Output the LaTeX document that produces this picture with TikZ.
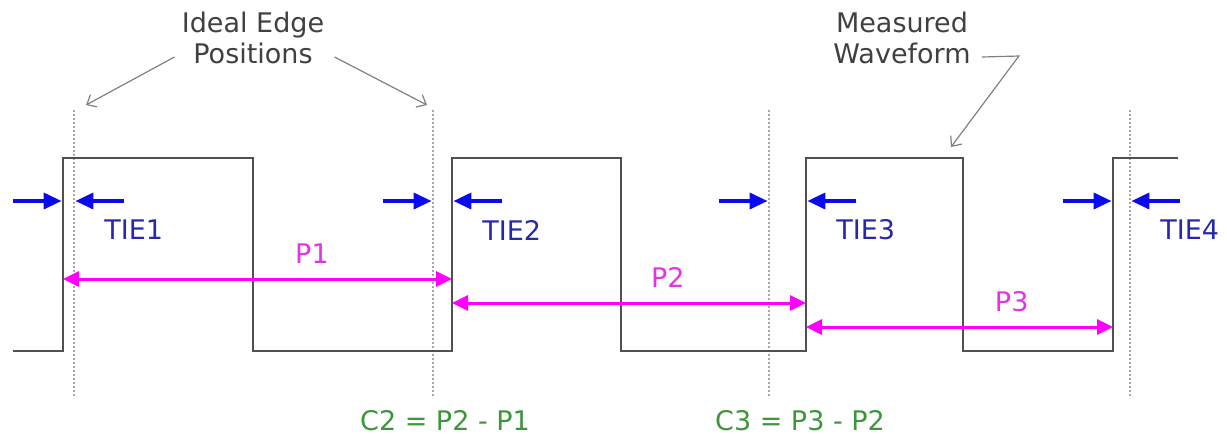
\documentclass[tikz,border=0pt]{standalone}
\usepackage{fontspec}
\setmainfont{DejaVu Sans}
\usepackage{xcolor}
\usepackage{tikz}
\usetikzlibrary{arrows.meta, positioning, calc}
\definecolor{waveGray}{RGB}{80,80,80}
\definecolor{tieBlue}{RGB}{10,10,240}
\definecolor{tieText}{RGB}{40,40,175}
\definecolor{perMagenta}{RGB}{255,0,255}
\definecolor{perText}{RGB}{230,50,230}
\definecolor{cycGreen}{RGB}{60,150,60}
\newcommand{\lblfont}{\fontsize{13.5}{15.5}\selectfont}

\begin{document}
\begin{tikzpicture}[
  x=0.5pt, y=-0.5pt,
  wave/.style={draw=waveGray, line width=1.4pt},
  ideal/.style={draw=black!35, dash pattern=on 0.8pt off 1.2pt, line width=0.8pt},
  tie/.style={-{Triangle[length=9pt, width=8pt]}, tieBlue, line width=1.8pt},
  period/.style={{Triangle[length=8pt, width=7.5pt]}-{Triangle[length=8pt, width=7.5pt]}, perMagenta, line width=1.5pt},
  pointer/.style={-{Straight Barb[length=4pt, width=7pt]}, black!50, line width=0.6pt},
  note/.style={align=center, font=\lblfont, text=black!75, inner sep=1pt},
  tielabel/.style={font=\lblfont, text=tieText, inner sep=0pt, anchor=west},
  perlabel/.style={font=\lblfont, text=perText, inner sep=0pt},
  cyclabel/.style={font=\lblfont, text=cycGreen, inner sep=0pt}
]
\useasboundingbox (0,0) rectangle (1227,436);

\coordinate (rise1) at (63,201);
\coordinate (rise2) at (452,201);
\coordinate (rise3) at (806,201);
\coordinate (rise4) at (1113,201);
\coordinate (ideal1) at (74,201);
\coordinate (ideal2) at (433,201);
\coordinate (ideal3) at (769,201);
\coordinate (ideal4) at (1130,201);

\foreach \i in {1,...,4}
  \draw[ideal] (ideal\i |- 0,110) -- (ideal\i |- 0,397);

\draw[wave] (13,351) -| (63,158) -| (253,351) -| (452,158) -| (621,351)
  -| (806,158) -| (963,351) -| (1113,158) -- (1178,158);

\foreach \l/\r/\n in {rise1/ideal1/1, ideal2/rise2/2, ideal3/rise3/3, rise4/ideal4/4} {
  \draw[tie] ($(\l)+(-50,0)$) -- ([xshift=-0.7pt]\l);
  \draw[tie] ($(\r)+(50,0)$) -- ([xshift=0.7pt]\r);
  \node[tielabel] (tie\n) at ($(\r)+(30,29)$) {TIE\n};
}

\draw[period] (rise1 |- 0,279) -- (rise2 |- 0,279) node[perlabel, pos=0.64, above=7pt] (p1) {P1};
\draw[period] (rise2 |- 0,303) -- (rise3 |- 0,303) node[perlabel, pos=0.61, above=7pt] (p2) {P2};
\draw[period] (rise3 |- 0,327) -- (rise4 |- 0,327) node[perlabel, pos=0.67, above=7pt] (p3) {P3};

\node[cyclabel] (c2) at (445,421) {C2 = P2 - P1};
\node[cyclabel] (c3) at (800,421) {C3 = P3 - P2};

\node[note] (idealnote) at (253,38) {Ideal Edge\\Positions};
\node[note] (wavenote) at (902,38) {Measured\\Waveform};
\coordinate (idealtip1) at (86,105);
\coordinate (idealtip2) at (427,105);
\coordinate (wavetip) at (951,147);
\draw[pointer] ($(idealnote.west)+(-5,19)$) -- (idealtip1);
\draw[pointer] ($(idealnote.east)+(8,19)$) -- (idealtip2);
\draw[pointer] ($(wavenote.east)+(9,19)$) -- ++(37,-1) -- (wavetip);
\end{tikzpicture}
\end{document}
